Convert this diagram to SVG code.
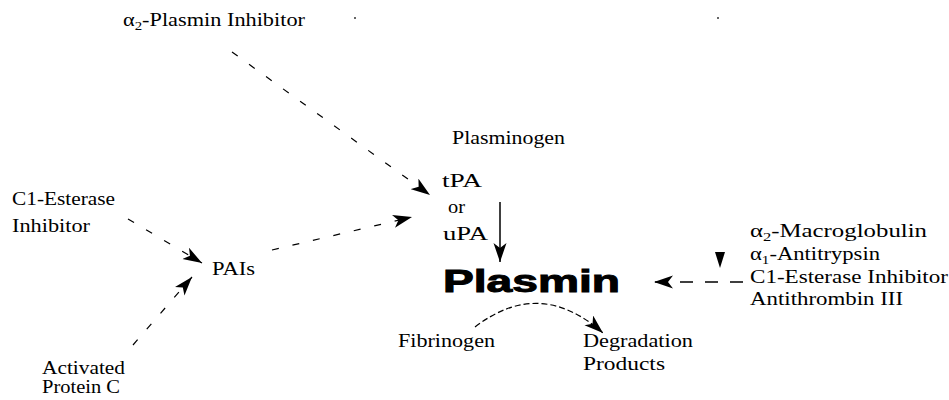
<svg xmlns="http://www.w3.org/2000/svg" width="949" height="400" viewBox="0 0 949 400">
<defs>
<style>
.t{font-family:"Liberation Serif","Times New Roman",serif;font-size:18px;fill:#000}
.sub{font-size:12px}
.big{font-family:"Liberation Sans",Arial,sans-serif;font-weight:bold;font-size:31px;fill:#000;stroke:#000;stroke-width:1}
.dash{fill:none;stroke:#000;stroke-width:1.2;stroke-dasharray:7 14}
.solid{fill:none;stroke:#000;stroke-width:1.5}
</style>
<marker id="ah" markerUnits="userSpaceOnUse" markerWidth="22" markerHeight="14" refX="19" refY="6.5" orient="auto">
<path d="M0,0 L19,6.5 L0,13 L5,6.5 Z" fill="#000"/>
</marker>
</defs>
<rect width="949" height="400" fill="#fff"/>
<g id="connectors">
<line class="dash" x1="232" y1="52" x2="430" y2="195" marker-end="url(#ah)"/>
<line class="dash" x1="272" y1="250" x2="412" y2="217" marker-end="url(#ah)"/>
<line class="dash" x1="128" y1="219" x2="202" y2="263" marker-end="url(#ah)"/>
<line class="dash" x1="133" y1="345" x2="192" y2="277" marker-end="url(#ah)"/>
<line class="solid" x1="500" y1="202" x2="500" y2="262" marker-end="url(#ah)"/>
<line fill="none" stroke="#000" stroke-width="1.5" stroke-dasharray="13 12" x1="743" y1="282" x2="654" y2="282" marker-end="url(#ah)"/>
<path fill="none" stroke="#000" stroke-width="1.2" stroke-dasharray="6 3" d="M475,327 Q540,277 603,333" marker-end="url(#ah)"/>
<polygon points="715,252 725,252 720,268" fill="#000"/>
<rect x="354" y="17" width="2" height="2" fill="#666"/>
<rect x="717" y="17" width="2" height="2" fill="#666"/>
</g>
<g id="a2-plasmin-inhibitor"><text class="t" x="123" y="26" textLength="182" lengthAdjust="spacingAndGlyphs">α<tspan class="sub" dy="4">2</tspan><tspan dy="-4">-Plasmin Inhibitor</tspan></text></g>
<g id="plasminogen"><text class="t" x="452" y="144" textLength="113" lengthAdjust="spacingAndGlyphs">Plasminogen</text></g>
<g id="tpa-upa">
<text class="t" x="442" y="187" textLength="40" lengthAdjust="spacingAndGlyphs">tPA</text>
<text class="t" x="448" y="213" textLength="17" lengthAdjust="spacingAndGlyphs">or</text>
<text class="t" x="443" y="240" textLength="45" lengthAdjust="spacingAndGlyphs">uPA</text>
</g>
<g id="plasmin"><text class="big" x="443" y="292" textLength="177" lengthAdjust="spacingAndGlyphs">Plasmin</text></g>
<g id="c1-esterase-left">
<text class="t" x="12" y="205" textLength="103" lengthAdjust="spacingAndGlyphs">C1-Esterase</text>
<text class="t" x="12" y="232" textLength="78" lengthAdjust="spacingAndGlyphs">Inhibitor</text>
</g>
<g id="pais"><text class="t" x="212" y="275" textLength="43" lengthAdjust="spacingAndGlyphs">PAIs</text></g>
<g id="activated-protein-c">
<text class="t" x="42" y="374" textLength="83" lengthAdjust="spacingAndGlyphs">Activated</text>
<text class="t" x="42" y="393" textLength="78" lengthAdjust="spacingAndGlyphs">Protein C</text>
</g>
<g id="fibrinogen"><text class="t" x="398" y="347" textLength="97" lengthAdjust="spacingAndGlyphs">Fibrinogen</text></g>
<g id="degradation-products">
<text class="t" x="583" y="347" textLength="110" lengthAdjust="spacingAndGlyphs">Degradation</text>
<text class="t" x="583" y="370" textLength="82" lengthAdjust="spacingAndGlyphs">Products</text>
</g>
<g id="inhibitors-right">
<text class="t" x="750" y="237" textLength="177" lengthAdjust="spacingAndGlyphs">α<tspan class="sub" dy="4">2</tspan><tspan dy="-4">-Macroglobulin</tspan></text>
<text class="t" x="750" y="260" textLength="130" lengthAdjust="spacingAndGlyphs">α<tspan class="sub" dy="4">1</tspan><tspan dy="-4">-Antitrypsin</tspan></text>
<text class="t" x="750" y="283" textLength="198" lengthAdjust="spacingAndGlyphs">C1-Esterase Inhibitor</text>
<text class="t" x="750" y="305" textLength="153" lengthAdjust="spacingAndGlyphs">Antithrombin III</text>
</g>
</svg>
